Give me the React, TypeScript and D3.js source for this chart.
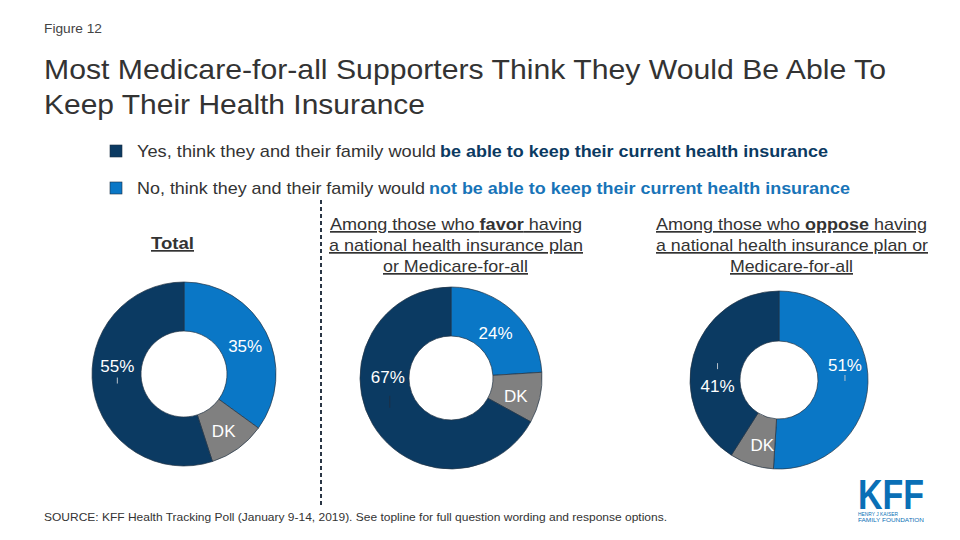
import React from "react";
import * as d3 from "d3";

// ---- Data ----
const groups = ["Total", "Favor", "Oppose"];
const noValues = [35, 24, 51]; // not able to keep
const dkValues = [10, 9, 8];
const yesValues = [55, 67, 41]; // able to keep
const sliceKeys = ["No", "DK", "Yes"];
const sliceLabels = (k: string, v: number) => (k === "DK" ? "DK" : `${v}%`);

// ---- Layout ----
const W = 960;
const H = 540;
const FONT = "'Liberation Sans', Arial, Helvetica, sans-serif";
const NAVY = "#0b3a62";
const BLUE = "#0a77c6";
const GRAY = "#808080";
const TEXT = "#333333";
const colors: Record<string, string> = { No: BLUE, DK: GRAY, Yes: NAVY };

const donutLayout = [
  { cx: 184, cy: 374, R: 92, r: 43 },
  { cx: 451, cy: 378, R: 91, r: 42 },
  { cx: 779, cy: 380, R: 89, r: 39 },
];
// label offsets from arc centroid (per group, per slice key)
const labelOffsets: Record<string, [number, number]>[] = [
  { No: [1, 3], DK: [0, 2], Yes: [0, -19] },
  { No: [-1, 3], DK: [0, 3], Yes: [-6, -35] },
  { No: [2, -17], DK: [3, 4], Yes: [0, 24] },
];

function Donut({ gi }: { gi: number }) {
  const L = donutLayout[gi];
  const vals = [noValues[gi], dkValues[gi], yesValues[gi]];
  const data = sliceKeys.map((k, i) => ({ key: k, value: vals[i] }));
  const pie = d3
    .pie<{ key: string; value: number }>()
    .sort(null)
    .value((d) => d.value)
    .startAngle(0)
    .endAngle(2 * Math.PI);
  const arcs = pie(data);
  const arc = d3
    .arc<d3.PieArcDatum<{ key: string; value: number }>>()
    .innerRadius(L.r)
    .outerRadius(L.R);
  return (
    <g transform={`translate(${L.cx},${L.cy})`}>
      {arcs.map((a) => (
        <path
          key={a.data.key}
          d={arc(a) || ""}
          fill={colors[a.data.key]}
          stroke="#233445"
          strokeWidth={0.7}
        />
      ))}
      {arcs.map((a) => {
        const [x, y] = arc.centroid(a);
        const [dx, dy] = labelOffsets[gi][a.data.key];
        const lx = x + dx;
        const ly = y + dy;
        const moved = Math.abs(dy) > 10;
        const sgn = dy < 0 ? -1 : 1;
        return (
          <g key={a.data.key + "l"}>
            {moved && (
              <line
                x1={lx + (gi === 1 ? 2 : 0)}
                x2={lx + (gi === 1 ? 2 : 0)}
                y1={y + sgn * (gi === 1 ? 4 : 1)}
                y2={y + sgn * (gi === 1 ? 16 : 7)}
                stroke={gi === 1 ? "#1d2f44" : "#b8c2cc"}
                strokeWidth={1}
              />
            )}
            <text
              x={lx}
              y={ly}
              dy="0.36em"
              textAnchor="middle"
              fill="#ffffff"
              fontSize={17}
              fontFamily={FONT}
            >
              {sliceLabels(a.data.key, a.data.value)}
            </text>
          </g>
        );
      })}
    </g>
  );
}

function T(props: any) {
  const { len, children, ...rest } = props;
  return (
    <text fontFamily={FONT} textLength={len} lengthAdjust="spacingAndGlyphs" {...rest}>
      {children}
    </text>
  );
}

export default function App() {
  const hs = {
    fontFamily: FONT,
    fontSize: 17,
    fill: TEXT,
    textDecoration: "underline",
  } as React.CSSProperties;
  return (
    <svg
      width={W}
      height={H}
      viewBox={`0 0 ${W} ${H}`}
      style={{ position: "absolute", left: 0, top: 0, background: "#fff" }}
    >
      <rect width={W} height={H} fill="#fff" />
      <T x={44} y={33} fontSize={13} fill="#444" len={58}>
        Figure 12
      </T>
      <T x={44} y={79} fontSize={28} fill={TEXT} len={842}>
        Most Medicare-for-all Supporters Think They Would Be Able To
      </T>
      <T x={44} y={114} fontSize={28} fill={TEXT} len={381}>
        Keep Their Health Insurance
      </T>

      {/* Legend */}
      <rect x={110} y={145} width={12} height={12} fill={NAVY} stroke="#1d2f44" strokeWidth={0.6} />
      <T x={137} y={157} fontSize={17} fill={TEXT} len={299}>
        Yes, think they and their family would
      </T>
      <T x={440} y={157} fontSize={17} fill={NAVY} fontWeight="bold" len={388}>
        be able to keep their current health insurance
      </T>
      <rect x={110} y={182} width={12} height={12} fill={BLUE} stroke="#1d2f44" strokeWidth={0.6} />
      <T x={137} y={194} fontSize={17} fill={TEXT} len={288}>
        No, think they and their family would
      </T>
      <T x={429} y={194} fontSize={17} fill="#1874b8" fontWeight="bold" len={421}>
        not be able to keep their current health insurance
      </T>

      {/* Column headers */}
      <T x={151} y={249} len={43} style={{ ...hs, fontWeight: "bold" }}>
        {groups[0]}
      </T>
      <g>
        <T x={330} y={230} len={252} style={hs}>
          Among those who <tspan fontWeight="bold">favor</tspan> having
        </T>
        <T x={329} y={251} len={254} style={hs}>
          a national health insurance plan
        </T>
        <T x={383} y={272} len={145} style={hs}>
          or Medicare-for-all
        </T>
      </g>
      <g>
        <T x={656} y={230} len={271} style={hs}>
          Among those who <tspan fontWeight="bold">oppose</tspan> having
        </T>
        <T x={656} y={251} len={272} style={hs}>
          a national health insurance plan or
        </T>
        <T x={730} y={272} len={123} style={hs}>
          Medicare-for-all
        </T>
      </g>

      {/* Divider */}
      <line x1={321} x2={321} y1={200} y2={508} stroke="#2a3645" strokeWidth={2} strokeDasharray="4 3" />

      {groups.map((g, i) => (
        <Donut key={g} gi={i} />
      ))}

      {/* Source */}
      <T x={44} y={521} fontSize={11} fill={TEXT} len={623}>
        SOURCE: KFF Health Tracking Poll (January 9-14, 2019). See topline for full question wording and response options.
      </T>

      {/* Logo */}
      <T x={858} y={509} fontSize={42} fontWeight="bold" fill="#0a6fb6" len={66}>
        KFF
      </T>
      <T x={858} y={516} fontSize={5} fill="#0a6fb6" len={40}>
        HENRY J KAISER
      </T>
      <T x={858} y={522} fontSize={5} fill="#0a6fb6" len={66}>
        FAMILY FOUNDATION
      </T>
    </svg>
  );
}
